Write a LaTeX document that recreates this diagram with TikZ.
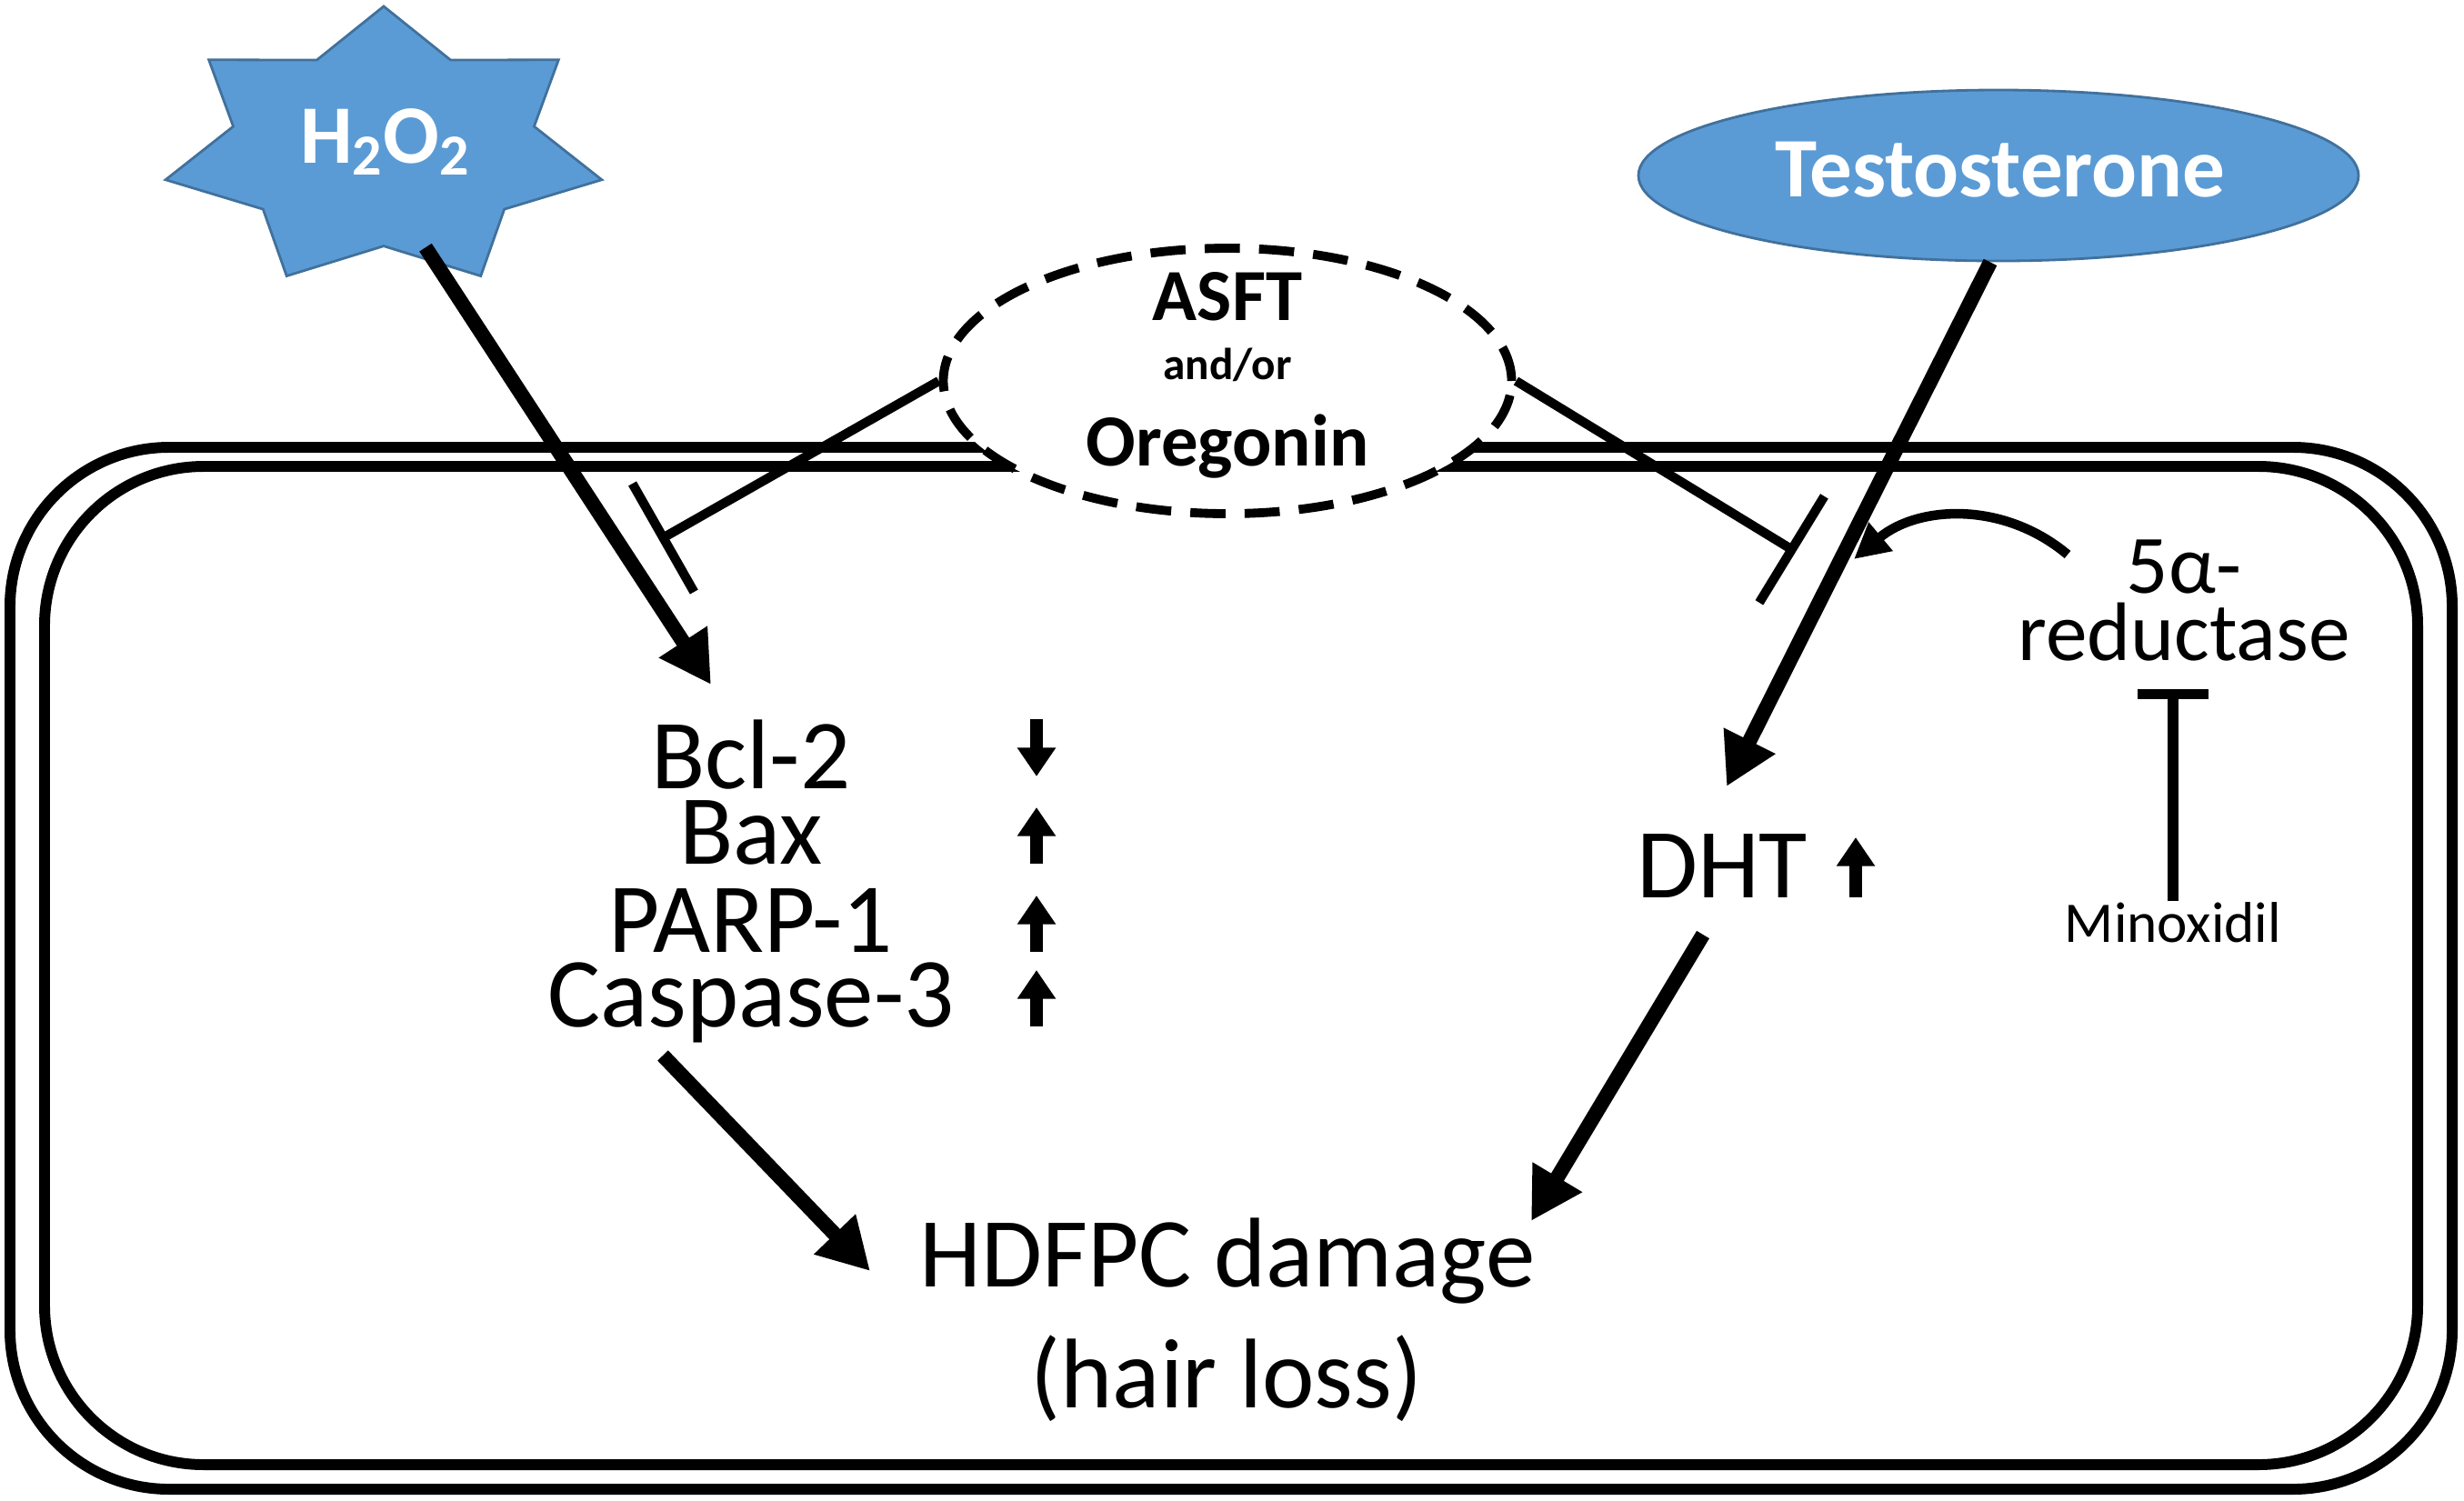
\documentclass[tikz,border=0pt]{standalone}
\usepackage{fontspec}
\setmainfont{Carlito}
\usetikzlibrary{arrows.meta, shapes.geometric}

\definecolor{boxblue}{HTML}{5B9BD5}
\definecolor{edgeblue}{HTML}{41719C}

\begin{document}
\begin{tikzpicture}[
    act/.style={line width=4.6pt,-{Triangle[length=16pt,width=17pt]}},
    inh/.style={line width=2.9pt,-{Bar[width=39pt]}},
    minbar/.style={line width=3.3pt,-{Bar[width=22pt]}},
    curv/.style={line width=3pt,-{Triangle[length=11pt,width=11pt]}},
    updown/.style={line width=3.8pt,-{Triangle[length=9pt,width=11.5pt]}},
    membrane/.style={line width=3.4pt,rounded corners=1.75cm},
    lbl/.style={font=\fontsize{#1}{#1}\selectfont,inner sep=0pt,anchor=base,text depth=0pt},
    boldtxt/.style={font=\bfseries\fontsize{#1}{#1}\selectfont,inner sep=0pt,anchor=base}
]

\useasboundingbox (0,0) rectangle (27.10,-16.50);

% =========================
% CELL (double membrane)
% =========================
\draw[membrane] (0.11,-4.92) rectangle (26.97,-16.38);
\draw[membrane] (0.49,-5.13) rectangle (26.59,-16.11);

% =========================
% OUTSIDE: H2O2, TESTOSTERONE, ASFT
% =========================
\node[star, star points=7, star point ratio=1.45, minimum size=3.12cm,
      inner sep=0pt, xscale=1.577, transform shape,
      fill=boxblue, draw=edgeblue, line width=0.8pt] (h2o2star) at (4.22,-1.63) {};
\node[boldtxt=26, text=white] (h2o2) at (4.24,-1.79) {H\textsubscript{2}O\textsubscript{2}};

\node[ellipse, fill=boxblue, draw=edgeblue, line width=0.8pt,
      minimum width=7.92cm, minimum height=1.88cm, inner sep=0pt] (testo) at (21.98,-1.93) {};
\node[boldtxt=26.5, text=white] (testotxt) at (22.00,-2.16) {Testosterone};

\node[ellipse, draw, fill=white, line width=2.8pt, dash pattern=on 11pt off 6pt,
      minimum width=6.25cm, minimum height=2.92cm] (asft) at (13.50,-4.19) {};
\node[boldtxt=23] (asft1) at (13.50,-3.52) {ASFT};
\node[boldtxt=14] (asft2) at (13.50,-4.17) {and/or};
\node[boldtxt=23] (asft3) at (13.50,-5.12) {Oregonin};

% =========================
% INSIDE: apoptosis markers, DHT, 5a-reductase
% =========================
\foreach \nm/\txt/\yy in {bcl/Bcl-2/8.67, bax/Bax/9.50, parp/PARP-1/10.47, casp/Caspase-3/11.29}
    \node[lbl=31, text height=21pt] (\nm) at (8.26,-\yy) {\txt};

\draw[updown] ([shift={(3.14,0.76)}]bcl.base) -- ++(0,-0.63);
\foreach \nm in {bax,parp,casp}
    \draw[updown] ([xshift=3.14cm]\nm.base) -- ++(0,0.62);

\node[lbl=31, text height=21pt] (dht) at (18.94,-9.87) {DHT};
\draw[updown] ([xshift=1.47cm]dht.base) -- ++(0,0.66);

\node[lbl=26, text height=18pt] (red1) at (24.02,-6.52) {5α-};
\node[lbl=26, text height=18pt] (red2) at (24.02,-7.26) {reductase};
\node[lbl=18, text height=12.5pt] (minox) at (23.90,-10.36) {Minoxidil};

\node[lbl=31, text height=21pt] (dmg1) at (13.50,-14.15) {HDFPC damage};
\node[lbl=31, text height=21pt] (dmg2) at (13.49,-15.48) {(hair loss)};

% =========================
% CONNECTORS
% =========================
\coordinate (inhA) at (7.25,-5.94);
\coordinate (inhB) at (19.75,-6.07);
\coordinate (conv) at (20.39,-6.15);

\draw[inh] (asft.west) -- (inhA);
\draw[inh] (asft.east) -- (inhB);

\draw[act] ([xshift=4.6mm]h2o2star.south) -- ([shift={(-0.44,1.14)}]bcl.base);
\draw[act] ([xshift=-0.9mm]testo.south) -- ([shift={(0.05,1.22)}]dht.base);
\draw[act] ([shift={(-0.97,-0.32)}]casp.base) -- ([shift={(-3.93,0.17)}]dmg1.base);
\draw[act] ([shift={(-0.21,-0.41)}]dht.base) -- ([shift={(3.34,0.72)}]dmg1.base);

\draw[curv] ([shift={(-1.28,0.42)}]red1.base) to[out=140,in=40] (conv);
\draw[minbar, shorten >=0.31cm] (minox.north) -- (minox.north |- red2.south);
\end{tikzpicture}
\end{document}
